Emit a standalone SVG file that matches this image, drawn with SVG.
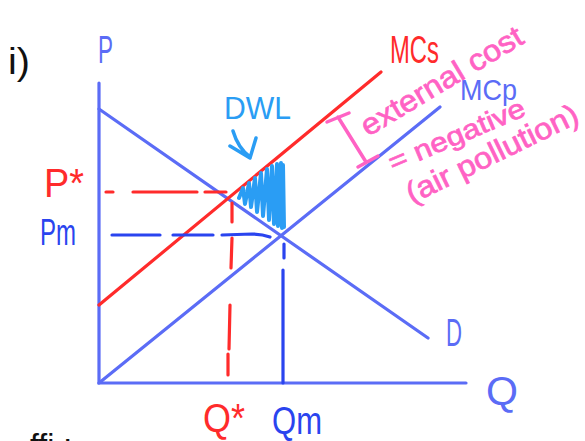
<svg xmlns="http://www.w3.org/2000/svg" width="585" height="441" viewBox="0 0 585 441">
<style>
.t{font-family:"Liberation Sans","DejaVu Sans",sans-serif;}
.ax{stroke:#5b6cf6;stroke-width:3.2;fill:none;stroke-linecap:round;}
.red{stroke:#ff2b2b;stroke-width:3.2;fill:none;stroke-linecap:round;}
.dk{stroke:#2a44ef;stroke-width:3.2;fill:none;stroke-linecap:round;}
.pk{fill:#ff62c4;stroke:#ff62c4;stroke-width:0.7;}
.blueL{fill:#5b6cf6;}
.redT{fill:#ff2b2b;}
.dkT{fill:#2a44ef;}
</style>
<rect width="585" height="441" fill="#ffffff"/>

<g id="label-i">
<text class="t" x="8" y="74" font-size="36" fill="#111" textLength="22" lengthAdjust="spacingAndGlyphs">i)</text>
</g>

<g id="axes">
<path class="ax" d="M99,83 L99,383 L466,383"/>
<text class="t blueL" x="98" y="63" font-size="38" textLength="15" lengthAdjust="spacingAndGlyphs">P</text>
<text class="t blueL" x="486" y="405" font-size="40" textLength="32" lengthAdjust="spacingAndGlyphs">Q</text>
</g>

<g id="demand">
<path class="ax" d="M99,109 L428,338"/>
<text class="t blueL" x="446" y="346" font-size="38" textLength="16" lengthAdjust="spacingAndGlyphs">D</text>
</g>

<g id="mcp">
<path class="ax" d="M99,383 L440,107"/>
<text class="t blueL" x="460" y="100" font-size="30" textLength="57" lengthAdjust="spacingAndGlyphs">MCp</text>
</g>

<g id="mcs">
<path class="red" d="M99,305 L381,72"/>
<text class="t redT" x="390" y="63" font-size="38" textLength="49" lengthAdjust="spacingAndGlyphs">MCs</text>
</g>

<g id="connectors">
<path class="red" d="M106,192 L113,192 M133,192 L197,192 M205,192 L226,192"/>
<path class="red" d="M232,203 L232,222 M232,238 L231,268 M230,305 L229,349 M228,354 L228,375"/>
<path class="dk" d="M112,235 L160,235 M173,235 L213,235 M222,235 L252,234 Q262,234 270,237"/>
<path class="dk" d="M284,244 L284,258 M283,270 L283,383"/>
</g>

<g id="p-star">
<text class="t redT" x="44" y="197" font-size="40" textLength="40" lengthAdjust="spacingAndGlyphs">P*</text>
</g>
<g id="pm">
<text class="t dkT" x="40" y="245" font-size="36" textLength="36" lengthAdjust="spacingAndGlyphs">Pm</text>
</g>
<g id="q-star">
<text class="t redT" x="203" y="432" font-size="40" textLength="42" lengthAdjust="spacingAndGlyphs">Q*</text>
</g>
<g id="qm">
<text class="t dkT" x="272" y="434" font-size="38" textLength="50" lengthAdjust="spacingAndGlyphs">Qm</text>
</g>

<g id="dwl">
<text class="t" fill="#2a9df4" x="224" y="119" font-size="32" textLength="67" lengthAdjust="spacingAndGlyphs">DWL</text>
<path d="M233,131 Q238,148 250,157 M230,146 L250,158 L256,138" fill="none" stroke="#2a9df4" stroke-width="3.5" stroke-linecap="round" stroke-linejoin="round"/>
<path d="M239,198 L243,188 L245,204 L249,183 L251,207 L255,178 L257,212 L261,173 L263,216 L267,169 L269,220 L272,166 L274,224 L277,164 L278,226 L281,163 L282,228 L283,165 L284,227" fill="none" stroke="#2a9df4" stroke-width="4" stroke-linejoin="round" stroke-linecap="round"/>
</g>

<g id="external-cost">
<path d="M327,122 L349,113 M338,117 L366,162 M358,167 L378,156" fill="none" stroke="#ff62c4" stroke-width="3.5" stroke-linecap="round"/>
<text class="t pk" font-size="30" transform="translate(368,137) rotate(-31)" textLength="184" lengthAdjust="spacingAndGlyphs">external cost</text>
<text class="t pk" font-size="27" transform="translate(393,172) rotate(-23)" textLength="146" lengthAdjust="spacingAndGlyphs">= negative</text>
<text class="t pk" font-size="30" transform="translate(412,204) rotate(-26)" textLength="188" lengthAdjust="spacingAndGlyphs">(air pollution)</text>
</g>

<g id="bottom-cut">
<text class="t" x="30" y="456" font-size="32" fill="#111">ffi :</text>
</g>
</svg>
